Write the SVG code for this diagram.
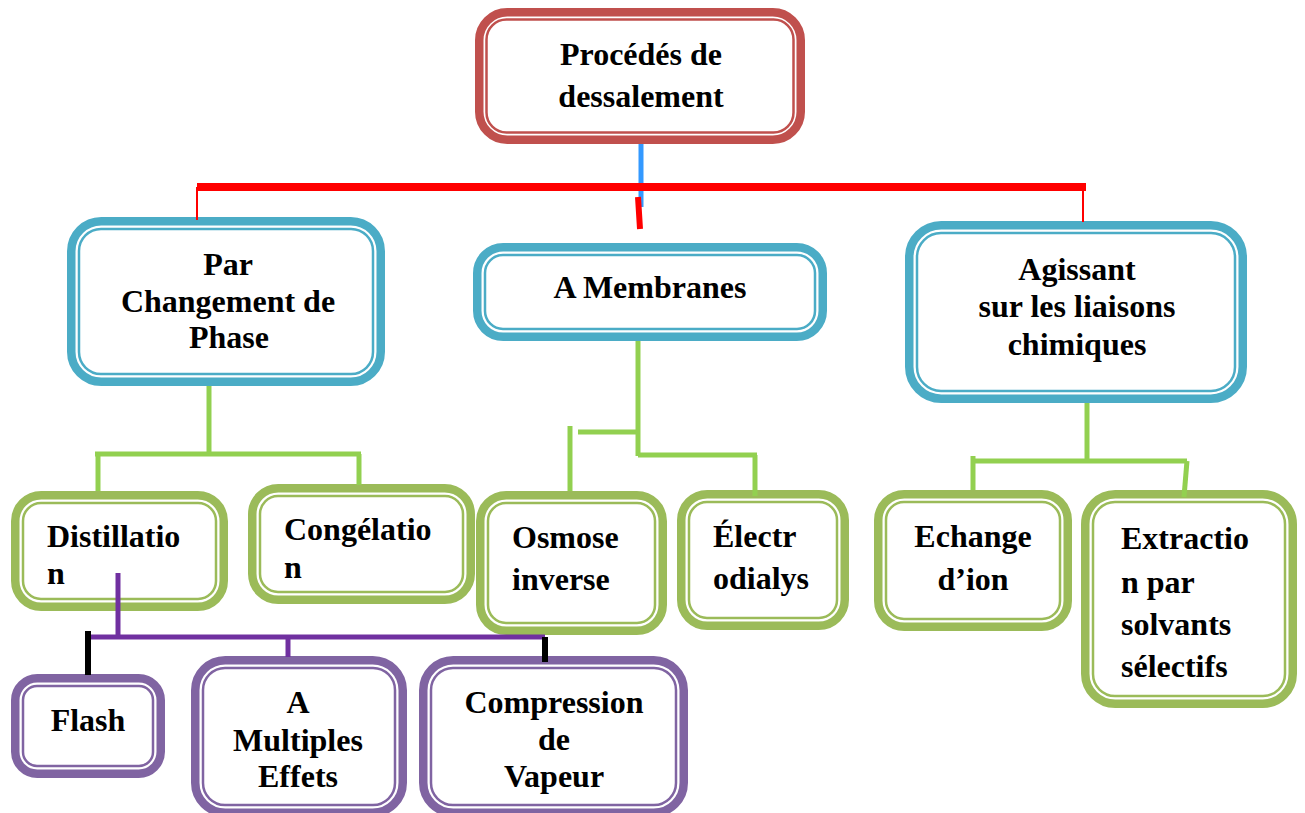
<svg xmlns="http://www.w3.org/2000/svg" width="1305" height="813" viewBox="0 0 1305 813">
<style>
.o{fill:#fff;stroke-width:8.5}
.i{fill:none;stroke-width:2.5}
.red .o,.red .i{stroke:#C0504D}
.blue .o,.blue .i{stroke:#4BACC6}
.green .o,.green .i{stroke:#9BBB59}
.purple .o,.purple .i{stroke:#8064A2}
text{font-family:"Liberation Serif","Times New Roman",serif;font-weight:bold;font-size:32px;fill:#000}
.c{text-anchor:middle}
.g{stroke:#92D050;stroke-width:5;fill:none}
.p{stroke:#7030A0;stroke-width:5;fill:none}
.k{stroke:#000;stroke-width:6;fill:none}
.r{stroke:#FF0000;fill:none}
</style>
<rect width="1305" height="813" fill="#fff"/>
<g id="n-top" class="red">
<rect class="o" x="479.25" y="12.25" width="321.5" height="127.5" rx="28"/>
<rect class="i" x="486.5" y="19.5" width="307" height="113" rx="20"/>
<text class="c" x="641" y="65">Procédés de</text>
<text class="c" x="641" y="107">dessalement</text>
</g>
<g id="n-par" class="blue">
<rect class="o" x="71.25" y="221.25" width="309.5" height="160.5" rx="30"/>
<rect class="i" x="79" y="229" width="294" height="145" rx="22"/>
<text class="c" x="228" y="275">Par</text>
<text class="c" x="228" y="312">Changement de</text>
<text class="c" x="229" y="348">Phase</text>
</g>
<g id="n-membranes" class="blue">
<rect class="o" x="477.25" y="247.25" width="345.5" height="89.5" rx="26"/>
<rect class="i" x="485" y="255" width="330" height="74" rx="18"/>
<text class="c" x="650" y="298">A Membranes</text>
</g>
<g id="n-agissant" class="blue">
<rect class="o" x="909.25" y="225.25" width="333.5" height="173.5" rx="32"/>
<rect class="i" x="917" y="233" width="318" height="158" rx="24"/>
<text class="c" x="1077" y="280">Agissant</text>
<text class="c" x="1077" y="317">sur les liaisons</text>
<text class="c" x="1077" y="355">chimiques</text>
</g>
<g id="n-distillation" class="green">
<rect class="o" x="15.25" y="495.25" width="208.5" height="111.5" rx="26"/>
<rect class="i" x="23" y="503" width="193" height="96" rx="18"/>
<text x="47" y="547">Distillatio</text>
<text x="47" y="584">n</text>
</g>
<g id="n-congelation" class="green">
<rect class="o" x="252.25" y="488.25" width="218.5" height="111.5" rx="26"/>
<rect class="i" x="260" y="496" width="203" height="96" rx="18"/>
<text x="284" y="540">Congélatio</text>
<text x="284" y="578">n</text>
</g>
<g id="n-osmose" class="green">
<rect class="o" x="480.25" y="495.25" width="182.5" height="135.5" rx="26"/>
<rect class="i" x="488" y="503" width="167" height="120" rx="18"/>
<text x="512" y="548">Osmose</text>
<text x="512" y="590">inverse</text>
</g>
<g id="n-electr" class="green">
<rect class="o" x="681.25" y="494.25" width="163.5" height="131.5" rx="26"/>
<rect class="i" x="689" y="502" width="148" height="116" rx="18"/>
<text x="713" y="547">Électr</text>
<text x="713" y="589">odialys</text>
</g>
<g id="n-echange" class="green">
<rect class="o" x="878.25" y="494.25" width="189.5" height="132.5" rx="26"/>
<rect class="i" x="886" y="502" width="174" height="117" rx="18"/>
<text class="c" x="973" y="547">Echange</text>
<text class="c" x="973" y="590">d’ion</text>
</g>
<g id="n-extraction" class="green">
<rect class="o" x="1085.25" y="494.25" width="207.5" height="209.5" rx="30"/>
<rect class="i" x="1093" y="502" width="192" height="194" rx="22"/>
<text x="1121" y="549">Extractio</text>
<text x="1121" y="593">n par</text>
<text x="1121" y="635">solvants</text>
<text x="1121" y="677">sélectifs</text>
</g>
<g id="n-flash" class="purple">
<rect class="o" x="15.25" y="678.25" width="145.5" height="95.5" rx="22"/>
<rect class="i" x="23" y="686" width="130" height="80" rx="14"/>
<text class="c" x="88" y="731">Flash</text>
</g>
<g id="n-multiples" class="purple">
<rect class="o" x="195.25" y="660.25" width="207.5" height="152.5" rx="30"/>
<rect class="i" x="203" y="668" width="192" height="137" rx="22"/>
<text class="c" x="298" y="713">A</text>
<text class="c" x="298" y="751">Multiples</text>
<text class="c" x="298" y="787">Effets</text>
</g>
<g id="n-compression" class="purple">
<rect class="o" x="423.25" y="660.25" width="260.5" height="152.5" rx="30"/>
<rect class="i" x="431" y="668" width="245" height="137" rx="22"/>
<text class="c" x="554" y="713">Compression</text>
<text class="c" x="554" y="750">de</text>
<text class="c" x="554" y="787">Vapeur</text>
</g>
<g id="connectors">
<line x1="641" y1="144" x2="641" y2="207" stroke="#3399FF" stroke-width="5"/>
<line class="r" x1="197" y1="187" x2="1086" y2="187" stroke-width="8"/>
<line class="r" x1="638" y1="197" x2="640" y2="229" stroke-width="6"/>
<line class="r" x1="197" y1="187" x2="197" y2="220" stroke-width="2"/>
<line class="r" x1="1083" y1="187" x2="1083" y2="222" stroke-width="2"/>
<line class="g" x1="209" y1="386" x2="209" y2="454"/>
<line class="g" x1="95" y1="454" x2="361" y2="454" stroke-width="6"/>
<line class="g" x1="98" y1="452" x2="98" y2="491"/>
<line class="g" x1="359" y1="454" x2="359" y2="485"/>
<line class="g" x1="638" y1="341" x2="638" y2="456"/>
<line class="g" x1="578" y1="432" x2="638" y2="432"/>
<line class="g" x1="570" y1="426" x2="570" y2="491"/>
<line class="g" x1="638" y1="455" x2="757" y2="455"/>
<line class="g" x1="755" y1="455" x2="755" y2="496"/>
<line class="g" x1="1087" y1="403" x2="1087" y2="462"/>
<line class="g" x1="972" y1="461" x2="1187" y2="461"/>
<line class="g" x1="973" y1="456" x2="973" y2="490"/>
<line class="g" x1="1187" y1="461" x2="1184" y2="497"/>
<line class="p" x1="118" y1="573" x2="118" y2="637"/>
<line class="p" x1="90" y1="637" x2="545" y2="637"/>
<line class="p" x1="288" y1="637" x2="288" y2="657"/>
<line class="k" x1="88" y1="631" x2="88" y2="675"/>
<line class="k" x1="545" y1="637" x2="545" y2="662"/>
</g>
</svg>
